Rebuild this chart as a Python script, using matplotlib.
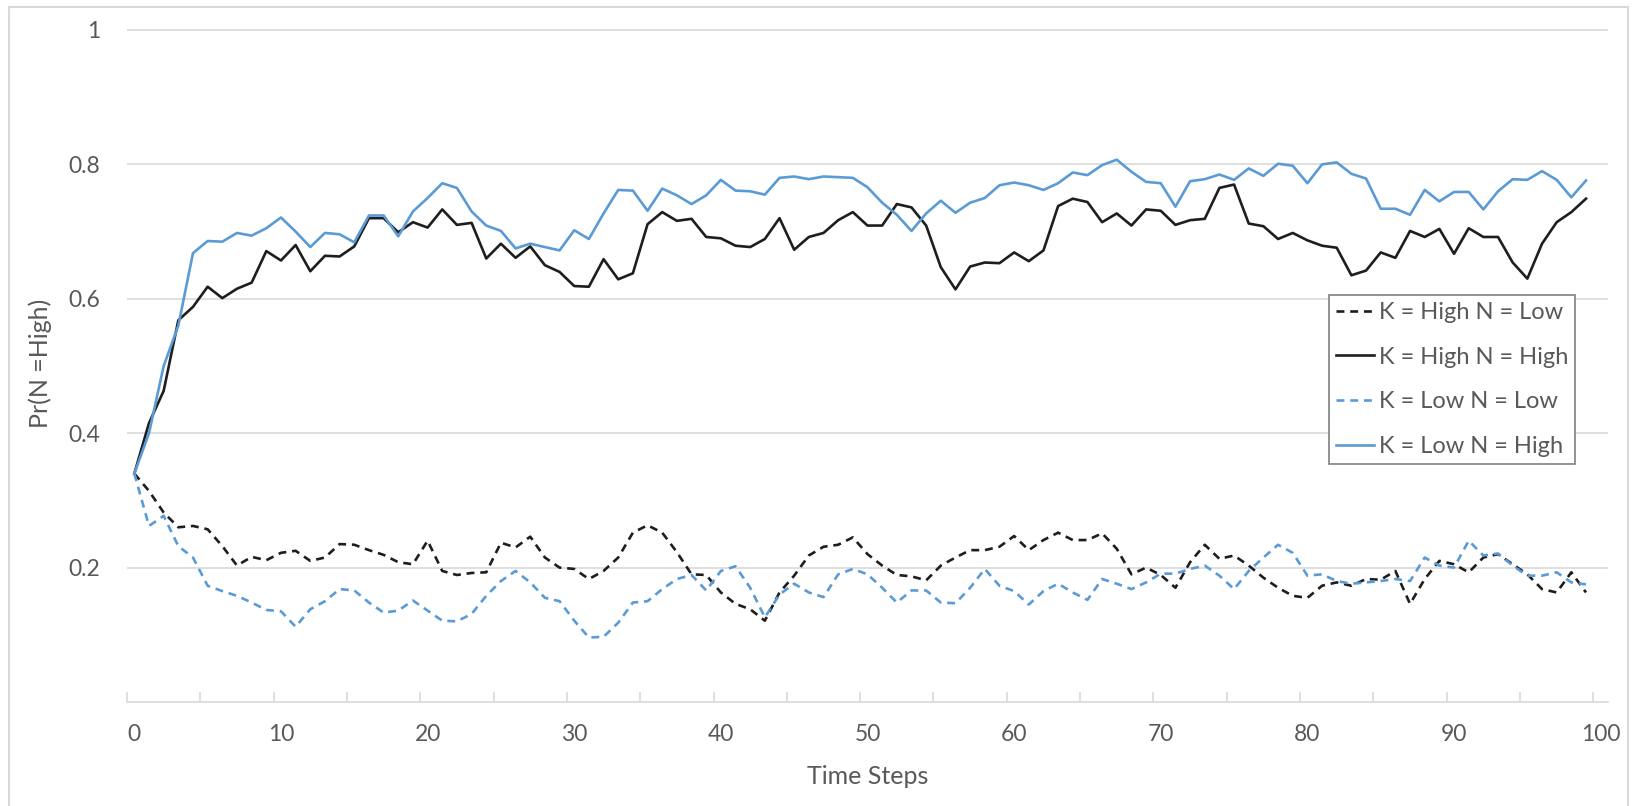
import numpy as np
import matplotlib.pyplot as plt
from matplotlib.patches import Rectangle

plt.rcParams['font.family'] = ['Lato', 'DejaVu Sans']

# Datos (pasos 0..99)
steps = np.arange(100)

high_low = [0.34, 0.314, 0.282, 0.26, 0.262, 0.257, 0.232, 0.203, 0.216, 0.211,
            0.222, 0.225, 0.21, 0.215, 0.235, 0.234, 0.226, 0.219, 0.208, 0.205,
            0.24, 0.195, 0.189, 0.192, 0.193, 0.237, 0.23, 0.246, 0.215, 0.2,
            0.198, 0.183, 0.195, 0.215, 0.252, 0.263, 0.252, 0.223, 0.19, 0.189,
            0.163, 0.146, 0.138, 0.121, 0.163, 0.188, 0.218, 0.231, 0.234, 0.245,
            0.22, 0.203, 0.189, 0.187, 0.181, 0.203, 0.215, 0.226, 0.226, 0.231,
            0.247, 0.226, 0.241, 0.252, 0.241, 0.241, 0.251, 0.228, 0.19, 0.2,
            0.189, 0.17, 0.208, 0.234, 0.213, 0.218, 0.203, 0.185, 0.17, 0.158,
            0.155, 0.173, 0.178, 0.173, 0.183, 0.182, 0.195, 0.146, 0.183, 0.21,
            0.205, 0.193, 0.215, 0.22, 0.205, 0.19, 0.168, 0.163, 0.193, 0.163]

high_high = [0.34, 0.415, 0.463, 0.568, 0.588, 0.618, 0.601, 0.615, 0.624, 0.671,
             0.657, 0.68, 0.641, 0.664, 0.663, 0.678, 0.72, 0.72, 0.699, 0.714,
             0.706, 0.733, 0.71, 0.713, 0.66, 0.682, 0.661, 0.678, 0.65, 0.64,
             0.619, 0.618, 0.659, 0.629, 0.638, 0.711, 0.729, 0.716, 0.719, 0.692,
             0.69, 0.679, 0.677, 0.689, 0.72, 0.673, 0.692, 0.698, 0.717, 0.729,
             0.709, 0.709, 0.741, 0.736, 0.709, 0.647, 0.614, 0.648, 0.654, 0.653,
             0.669, 0.656, 0.672, 0.738, 0.749, 0.744, 0.714, 0.727, 0.709, 0.733,
             0.731, 0.71, 0.717, 0.719, 0.765, 0.77, 0.712, 0.708, 0.689, 0.698,
             0.687, 0.679, 0.676, 0.635, 0.642, 0.669, 0.661, 0.701, 0.692, 0.704,
             0.667, 0.705, 0.692, 0.692, 0.654, 0.63, 0.682, 0.714, 0.729, 0.749]

low_low = [0.34, 0.262, 0.277, 0.232, 0.215, 0.173, 0.165, 0.158, 0.148, 0.137,
           0.135, 0.112, 0.138, 0.15, 0.168, 0.166, 0.148, 0.133, 0.136, 0.151,
           0.136, 0.121, 0.12, 0.131, 0.158, 0.18, 0.195, 0.178, 0.155, 0.15,
           0.121, 0.096, 0.097, 0.118, 0.148, 0.15, 0.168, 0.183, 0.189, 0.166,
           0.195, 0.202, 0.17, 0.126, 0.16, 0.176, 0.163, 0.156, 0.19, 0.198,
           0.19, 0.17, 0.148, 0.166, 0.166, 0.148, 0.147, 0.17, 0.198, 0.173,
           0.165, 0.145, 0.165, 0.176, 0.163, 0.152, 0.183, 0.176, 0.168, 0.178,
           0.191, 0.191, 0.198, 0.203, 0.188, 0.168, 0.195, 0.215, 0.234, 0.222,
           0.188, 0.19, 0.18, 0.176, 0.178, 0.18, 0.183, 0.18, 0.215, 0.203,
           0.2, 0.24, 0.218, 0.221, 0.203, 0.188, 0.188, 0.193, 0.178, 0.175]

low_high = [0.34, 0.40, 0.50, 0.56, 0.668, 0.686, 0.685, 0.698, 0.694, 0.705,
            0.721, 0.70, 0.677, 0.698, 0.696, 0.684, 0.724, 0.724, 0.693, 0.73,
            0.75, 0.772, 0.765, 0.73, 0.709, 0.701, 0.675, 0.682, 0.677, 0.672,
            0.702, 0.689, 0.727, 0.762, 0.761, 0.731, 0.764, 0.754, 0.741, 0.754,
            0.777, 0.761, 0.760, 0.755, 0.78, 0.782, 0.778, 0.782, 0.781, 0.78,
            0.766, 0.743, 0.725, 0.701, 0.727, 0.746, 0.728, 0.743, 0.75, 0.769,
            0.773, 0.769, 0.762, 0.772, 0.788, 0.784, 0.799, 0.807, 0.789, 0.774,
            0.772, 0.737, 0.775, 0.778, 0.785, 0.777, 0.794, 0.783, 0.801, 0.798,
            0.772, 0.80, 0.803, 0.786, 0.779, 0.734, 0.734, 0.725, 0.762, 0.745,
            0.759, 0.759, 0.733, 0.76, 0.778, 0.777, 0.79, 0.777, 0.751, 0.776]

labels = ['K = High N = Low', 'K = High N = High', 'K = Low N = Low', 'K = Low N = High']

black = '#1e1e1e'
blue = '#5b9bd5'
grey_txt = '#595959'
grey_line = '#d9d9d9'

W, H = 1640, 806
fig = plt.figure(figsize=(W / 100, H / 100), dpi=100)
ax = fig.add_axes([127 / W, (H - 702) / H, (1608 - 127) / W, 672 * 1.01 / H])

lw = 1.9
dash = (0, (3, 2.2))
ax.plot(steps, high_low, color=black, lw=lw, ls=dash, label=labels[0])
ax.plot(steps, high_high, color=black, lw=lw, label=labels[1])
ax.plot(steps, low_low, color=blue, lw=lw, ls=dash, label=labels[2])
ax.plot(steps, low_high, color=blue, lw=lw, label=labels[3])

ax.set_xlim(-0.5, 100.5)
ax.set_ylim(0, 1.01)

# ejes
for s in ['top', 'right', 'left']:
    ax.spines[s].set_visible(False)
ax.spines['bottom'].set_color(grey_line)
ax.spines['bottom'].set_linewidth(1.2)

ax.set_xticks(np.arange(0, 101, 10))
ax.set_xticks(np.arange(-0.5, 100, 5), minor=True)
ax.tick_params(axis='x', which='major', length=0, pad=16, labelsize=16.5, labelcolor=grey_txt)
ax.tick_params(axis='x', which='minor', length=7, direction='in', color=grey_line, width=1.2)

yt = [0.2, 0.4, 0.6, 0.8, 1.0]
ax.set_yticks(yt)
ax.set_yticklabels(['0.2', '0.4', '0.6', '0.8', '1'])
ax.tick_params(axis='y', length=0, pad=19, labelsize=16.5, labelcolor=grey_txt)
ax.grid(axis='y', color=grey_line, lw=1.2)
ax.set_axisbelow(True)

ax.set_xlabel('Time Steps', fontsize=18, color=grey_txt, labelpad=14)
ax.set_ylabel('Pr(N =High)', fontsize=18, color=grey_txt)
ax.yaxis.set_label_coords(52 / W, 1 - 363 / H, transform=fig.transFigure)

leg = ax.legend(loc='upper left', bbox_to_anchor=(1329 / W, 1 - 295 / H),
                bbox_transform=fig.transFigure, borderaxespad=0, fontsize=17,
                fancybox=False, framealpha=1, edgecolor='#7f7f7f',
                handlelength=1.6, handletextpad=0.2, labelspacing=1.0,
                borderpad=0.3)
leg.get_frame().set_linewidth(1.2)
for t in leg.get_texts():
    t.set_color(grey_txt)

# borde del gráfico
fig.add_artist(Rectangle((9 / W, -0.02), (1628 - 9) / W, 1.02 - 7 / H,
                         transform=fig.transFigure, fill=False,
                         edgecolor=grey_line, lw=1.5))

fig.savefig('out.png', dpi=100)
